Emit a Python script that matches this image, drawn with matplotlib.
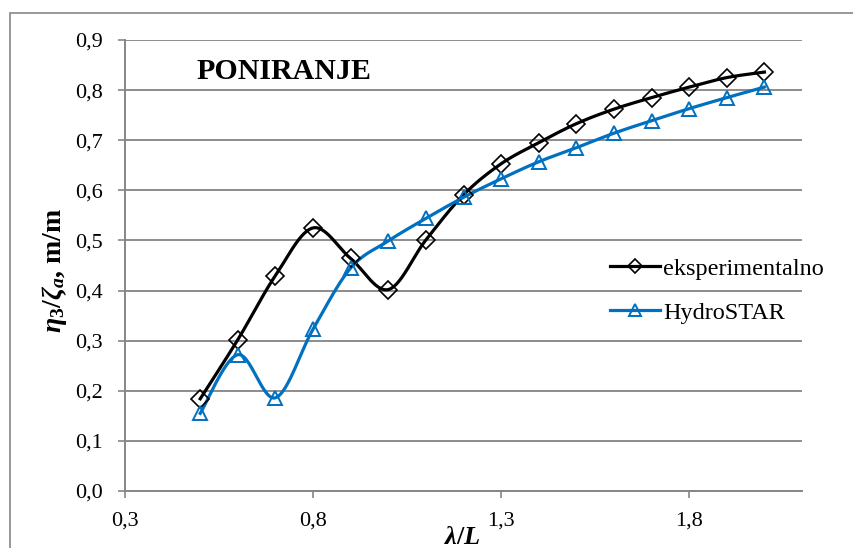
import numpy as np
import matplotlib
matplotlib.use('Agg')
import matplotlib.pyplot as plt
from matplotlib.patches import Rectangle

plt.rcParams['font.family'] = ['Liberation Serif', 'DejaVu Serif']
plt.rcParams['mathtext.fontset'] = 'custom'
plt.rcParams['mathtext.rm'] = 'Liberation Serif:bold'
plt.rcParams['mathtext.it'] = 'Liberation Serif:italic:bold'
plt.rcParams['mathtext.bf'] = 'Liberation Serif:bold'

# podaci
lam_L = [0.5, 0.6, 0.7, 0.8, 0.9, 1.0, 1.1, 1.2, 1.3, 1.4, 1.5, 1.6, 1.7, 1.8, 1.9, 2.0]
eksperimentalno = [0.184, 0.302, 0.430, 0.525, 0.464, 0.402, 0.501, 0.591,
                   0.653, 0.695, 0.733, 0.762, 0.785, 0.806, 0.825, 0.836]
hydrostar = [0.155, 0.272, 0.186, 0.323, 0.445, 0.499, 0.544, 0.586,
             0.623, 0.657, 0.685, 0.714, 0.739, 0.763, 0.785, 0.806]
x_ticks = [0.3, 0.8, 1.3, 1.8]
y_ticks = [0.0, 0.1, 0.2, 0.3, 0.4, 0.5, 0.6, 0.7, 0.8, 0.9]


# glatka krivulja kao u Excelu (Catmull-Rom)
def glatko(x, y, n=30):
    x = np.asarray(x, float)
    y = np.asarray(y, float)
    p = np.column_stack([x, y])
    p = np.vstack([p[0], p, p[-1]])
    out = []
    t = np.linspace(0, 1, n)[:, None]
    for i in range(1, len(p) - 2):
        p0, p1, p2, p3 = p[i - 1], p[i], p[i + 1], p[i + 2]
        c1 = p1 + (p2 - p0) / 6
        c2 = p2 - (p3 - p1) / 6
        seg = ((1 - t) ** 3) * p1 + 3 * ((1 - t) ** 2) * t * c1 + 3 * (1 - t) * t ** 2 * c2 + t ** 3 * p2
        out.append(seg)
    out = np.vstack(out)
    return out[:, 0], out[:, 1]


fig = plt.figure(figsize=(8.54, 5.48), dpi=100)
ax = fig.add_axes([125 / 854, 1 - 491 / 548, (802 - 125) / 854, (491 - 40) / 548])

fig.patches.append(Rectangle((10 / 854, -0.1), 1.0, 1 - 13 / 548 + 0.1,
                             transform=fig.transFigure, fill=False,
                             edgecolor='#868686', linewidth=1.2))

crna = '#000000'
plava = '#0070C0'

xs, ys = glatko(lam_L, eksperimentalno)
ax.plot(xs, ys, color=crna, linewidth=2.3, zorder=3)
ax.plot(lam_L, eksperimentalno, linestyle='none', marker='D', markersize=9,
        markerfacecolor='none', markeredgecolor=crna, markeredgewidth=1.2, zorder=4)

xs, ys = glatko(lam_L, hydrostar)
ax.plot(xs, ys, color=plava, linewidth=2.3, zorder=3)
ax.plot(lam_L, hydrostar, linestyle='none', marker='^', markersize=10,
        markerfacecolor='none', markeredgecolor=plava, markeredgewidth=1.4, zorder=4)

# legenda
h1, = ax.plot([], [], color=crna, linewidth=2.3, marker='D', markersize=7,
              markerfacecolor='none', markeredgecolor=crna, markeredgewidth=1.2)
h2, = ax.plot([], [], color=plava, linewidth=2.3, marker='^', markersize=8,
              markerfacecolor='none', markeredgecolor=plava, markeredgewidth=1.4)
ax.legend([h1, h2], ['eksperimentalno', 'HydroSTAR'], loc='upper left',
          bbox_to_anchor=(0.716, 0.517), frameon=False, fontsize=17.5,
          handlelength=2.05, handletextpad=0.15, labelspacing=0.9,
          borderaxespad=0, borderpad=0)

ax.set_xlim(0.3, 2.1)
ax.set_ylim(0, 0.9)
ax.set_xticks(x_ticks)
ax.set_yticks(y_ticks)
ax.set_xticklabels([f'{v:.1f}'.replace('.', ',') for v in x_ticks], fontsize=16)
ax.set_yticklabels([f'{v:.1f}'.replace('.', ',') for v in y_ticks], fontsize=16)
ax.tick_params(axis='both', direction='out', length=5, color='#868686', width=1.2)
ax.tick_params(axis='x', pad=10)
ax.tick_params(axis='y', pad=11)

ax.grid(axis='y', color='#8c8c8c', linewidth=1.4)
ax.set_axisbelow(True)
for s in ['top', 'right']:
    ax.spines[s].set_visible(False)
for s in ['left', 'bottom']:
    ax.spines[s].set_color('#868686')
    ax.spines[s].set_linewidth(1.4)

ax.text(0.49, 0.822, 'PONIRANJE', fontsize=21.5, fontweight='bold', va='baseline')

fig.text(55 / 854, 1 - 270 / 548, r'$\eta_3/\zeta_a$, m/m', rotation=90, fontsize=20,
         fontweight='bold', ha='center', va='center')
fig.text(462 / 854, 1 - 544 / 548, r'$\lambda/L$', fontsize=19, ha='center', va='baseline')

fig.savefig('out.png', dpi=100)
